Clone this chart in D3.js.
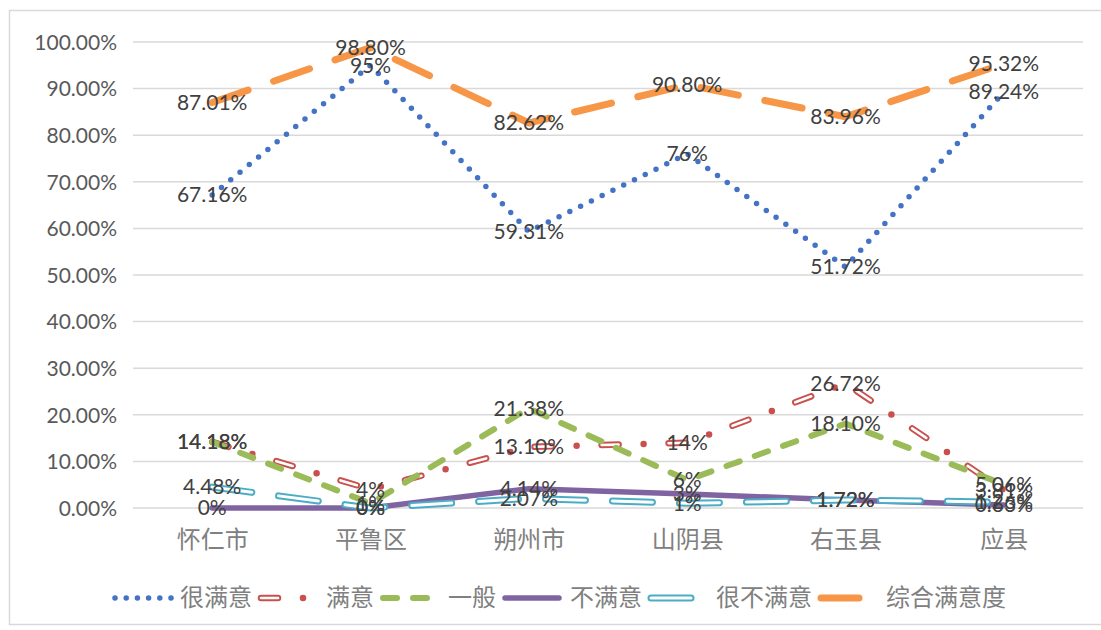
<!DOCTYPE html>
<html><head><meta charset="utf-8">
<script src="https://cdn.jsdelivr.net/npm/d3@7"></script>
<style>
html,body{margin:0;padding:0;background:#fff;}
svg{display:block;}
</style></head>
<body>
<svg id="chart" width="1101" height="630"></svg>
<script>
const categories = ["怀仁市","平鲁区","朔州市","山阴县","右玉县","应县"];
const seriesNames = ["很满意","满意","一般","不满意","很不满意","综合满意度"];
const veryS     = [67.16, 95, 59.31, 76, 51.72, 89.24];
const satisfied = [14.18, 4, 13.10, 14, 26.72, 3.81];
const general   = [14.18, 1, 21.38, 6, 18.10, 5.06];
const unsat     = [0, 0, 4.14, 3, 1.72, 0.63];
const veryUnsat = [4.48, 0, 2.07, 1, 1.72, 1.26];
const overall   = [87.01, 98.80, 82.62, 90.80, 83.96, 95.32];
const yTicks = [0,10,20,30,40,50,60,70,80,90,100];

const seriesValues = [veryS, satisfied, general, unsat, veryUnsat, overall];

const styles = [
  [{stroke:"#4472C4", w:5.5, dash:"0 12", cap:"round"}],
  [{stroke:"#C9504D", w:6.5, dash:"17 25 0 25", cap:"round"},
   {stroke:"#ffffff", w:2.6, dash:"17 50", cap:"round"}],
  [{stroke:"#9BBB59", w:6, dash:"14 16", cap:"round"}],
  [{stroke:"#8064A2", w:5.5, dash:null, cap:"round"}],
  [{stroke:"#4BACC6", w:7, dash:"40 27", cap:"round"},
   {stroke:"#ffffff", w:3, dash:"40 27", cap:"round"}],
  [{stroke:"#F79646", w:7, dash:"38 27", cap:"round"}]
];

const svg = d3.select("#chart");
svg.append("rect").attr("x",9.5).attr("y",10.5).attr("width",1100).attr("height",614)
  .attr("fill","#fff").attr("stroke","#d9d9d9").attr("stroke-width",1.5);

const x = d3.scalePoint().domain(categories).range([133+79.17, 1083-79.17]);
const y = d3.scaleLinear().domain([0,100]).range([508,42]);

svg.append("g").selectAll("line").data(yTicks).join("line")
  .attr("x1",133).attr("x2",1083)
  .attr("y1",d=>y(d)).attr("y2",d=>y(d))
  .attr("stroke","#d9d9d9").attr("stroke-width",1.5);

const yAxis = d3.axisLeft(y).tickValues(yTicks).tickSize(0).tickPadding(0)
  .tickFormat(d=>d.toFixed(2)+"%");
const gy = svg.append("g").attr("transform","translate(117,0)").call(yAxis);
gy.select(".domain").remove();
gy.selectAll("text").attr("font-family","Lato, 'Open Sans', sans-serif")
  .attr("font-size",21).attr("fill","#595959").attr("dy","0.35em");

const xAxis = d3.axisBottom(x).tickSize(0).tickPadding(0);
const gx = svg.append("g").attr("transform","translate(0,540)").call(xAxis);
gx.select(".domain").remove();
gx.selectAll("text").attr("font-family","'Noto Sans CJK SC', sans-serif")
  .attr("font-size",24).attr("fill","#808080").attr("dy","0.35em");

const line = d3.line().x((d,i)=>x(categories[i])).y(d=>y(d));

function drawStyled(g, pathD, layers){
  layers.forEach(l=>{
    const p = g.append("path").attr("d",pathD).attr("fill","none")
      .attr("stroke",l.stroke).attr("stroke-width",l.w)
      .attr("stroke-linecap",l.cap).attr("stroke-linejoin","round");
    if(l.dash) p.attr("stroke-dasharray",l.dash);
  });
}

const gl = svg.append("g");
seriesValues.forEach((vals,si)=>{
  drawStyled(gl.append("g"), line(vals), styles[si]);
});

const fmt = v => Number.isInteger(v) ? v+"%" : v.toFixed(2)+"%";
const glab = svg.append("g");
seriesValues.forEach((vals)=>{
  glab.selectAll(null).data(vals).join("text")
    .attr("x",(d,i)=>x(categories[i])).attr("y",d=>y(d))
    .attr("text-anchor","middle").attr("dy","0.35em")
    .attr("font-family","Lato, 'Open Sans', sans-serif").attr("font-size",21)
    .attr("fill","#404040").text(d=>fmt(d));
});

const lg = svg.append("g");
let sx = 112;
const ly = 598;
seriesNames.forEach((name,si)=>{
  const g = lg.append("g");
  const d = si===0 ? `M${sx+3},${ly}L${sx+59},${ly}` : `M${sx+3},${ly}L${sx+57},${ly}`;
  const layers = si===0 ? [{stroke:"#4472C4", w:5.5, dash:"0 11.2", cap:"round"}] : styles[si];
  drawStyled(g, d, layers);
  const t = g.append("text").attr("x",sx+68).attr("y",ly).attr("dy","0.35em")
    .attr("font-family","'Noto Sans CJK SC', sans-serif").attr("font-size",24)
    .attr("fill","#808080").text(name);
  const w = t.node().getComputedTextLength();
  sx += 68 + w + 6;
});
</script>
</body></html>
